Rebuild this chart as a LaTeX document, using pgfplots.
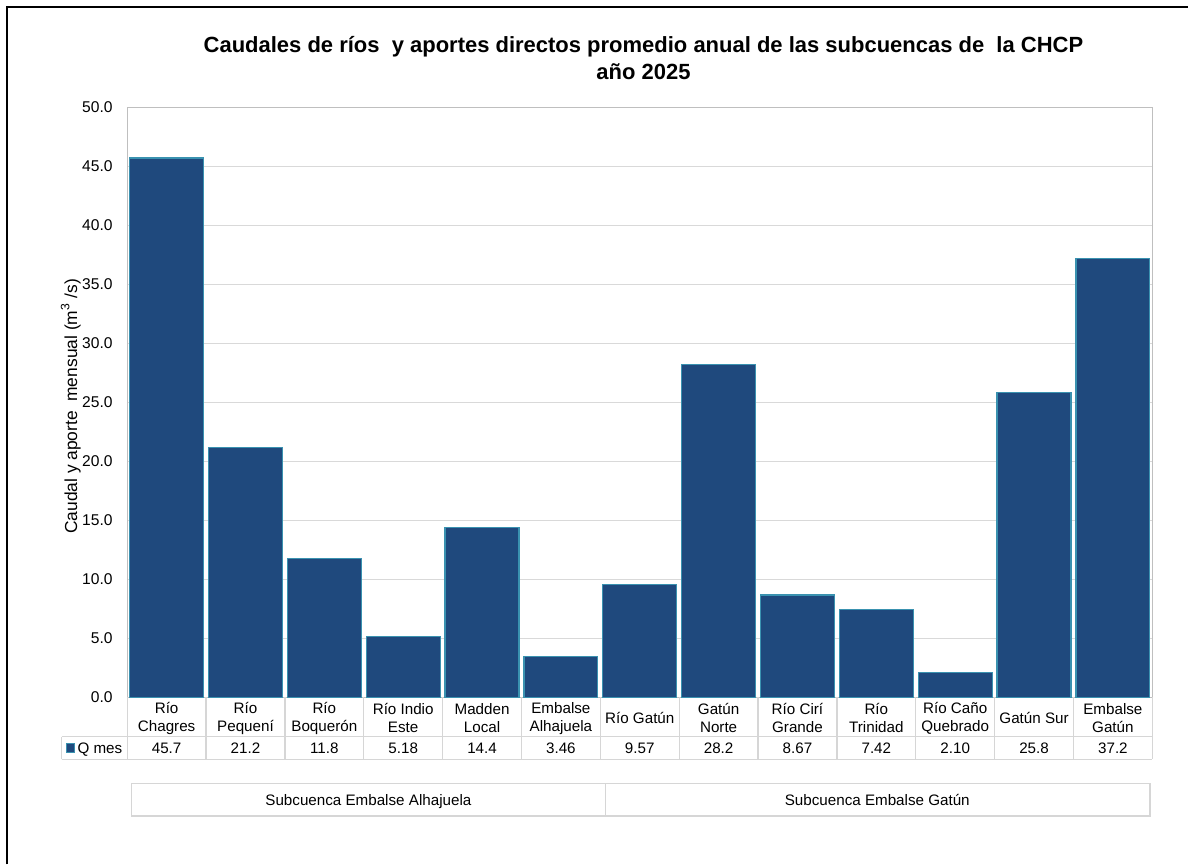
\documentclass[border=0pt]{standalone}
\usepackage{fontspec}
\setmainfont{Liberation Sans}
\usepackage{pgfplots}
\usepackage{pgfplotstable}
\pgfplotsset{compat=1.18}
\definecolor{barblue}{HTML}{1F497D}
\definecolor{baredge}{HTML}{3A92B0}
\definecolor{framegray}{HTML}{BFBFBF}
\definecolor{gridgray}{HTML}{D9D9D9}
\definecolor{tablegray}{HTML}{D6D6D6}

% caudal medio anual (m3/s) por subcuenca
\pgfplotstableread{
x  y     lab
0  45.7  45.7
1  21.2  21.2
2  11.8  11.8
3  5.18  5.18
4  14.4  14.4
5  3.46  3.46
6  9.57  9.57
7  28.2  28.2
8  8.67  8.67
9  7.42  7.42
10 2.10  2.10
11 25.8  25.8
12 37.2  37.2
}\caudales

\newcommand{\lab}{\fontsize{7.6}{8.9}\selectfont}

\begin{document}
\begin{tikzpicture}
% page size 1189x865 px at 0.5pt/px
\path (0,0) rectangle (594.5pt,432.5pt);
% outer frame (top and left only, as cropped in the original)
\draw[black,line width=1pt] (3.65pt,0) -- (3.65pt,428.85pt) -- (594.5pt,428.85pt);

\begin{axis}[
    at={(63.65pt,83.5pt)}, anchor=south west,
    scale only axis,
    width=513pt, height=295.35pt,
    xmin=-0.5, xmax=12.5,
    ymin=0, ymax=50,
    clip=false,
    axis line style={draw=framegray, line width=0.6pt},
    ymajorgrids, grid style={draw=gridgray, line width=0.6pt},
    major tick length=0pt,
    ytick={0,5,...,50},
    yticklabel style={/pgf/number format/fixed, /pgf/number format/fixed zerofill,
        /pgf/number format/precision=1, /pgf/number format/assume math mode=true,
        font=\fontsize{7.8}{9}\selectfont, anchor=east, inner sep=0pt, xshift=-7.15pt},
    xtick={0,...,12},
    xticklabels={R\'io\\Chagres, R\'io\\Pequen\'i, R\'io\\Boquer\'on, R\'io Indio\\Este,
        Madden\\Local, Embalse\\Alhajuela, R\'io Gat\'un, Gat\'un\\Norte, R\'io Cir\'i\\Grande,
        R\'io\\Trinidad, R\'io Ca\~no\\Quebrado, Gat\'un Sur, Embalse\\Gat\'un},
    xticklabel style={font=\lab, align=center, anchor=center, inner sep=0pt, yshift=-10.4pt},
    ylabel={Caudal y aporte~ mensual (m\textsuperscript{3} /s)},
    every axis y label/.style={at={(rel axis cs:0,0.5)}, xshift=-28.2pt, yshift=-2pt,
        rotate=90, anchor=center, font=\fontsize{8.7}{10}\selectfont},
]
\addplot[ybar, bar width=37pt, fill=barblue, draw=baredge, line width=0.6pt]
    table[x=x, y=y] {\caudales};
% fila de valores de la tabla de datos
\addplot[draw=none, mark=none, nodes near coords, point meta=explicit symbolic,
    nodes near coords style={anchor=base, yshift=-28pt, font=\lab, text=black, inner sep=0pt}]
    table[x=x, y expr=0, meta=lab] {\caudales};
\end{axis}

% data table grid
\begin{scope}[tablegray, line width=0.6pt]
\draw (30.85pt,63.85pt) -- (576.65pt,63.85pt);
\draw (30.85pt,52.5pt) -- (576.65pt,52.5pt);
\draw (30.85pt,52.5pt) -- (30.85pt,63.85pt);
\foreach \k in {0,...,13}
    \draw ({63.65pt+\k*39.4615pt},83.5pt) -- ({63.65pt+\k*39.4615pt},52.5pt);
% subcuenca boxes
\draw (65.85pt,24.15pt) rectangle (575.5pt,40.3pt);
\draw (302.85pt,24.15pt) -- (302.85pt,40.3pt);
\end{scope}

% legend key
\draw[fill=barblue, draw=baredge, line width=0.5pt] (33.1pt,56pt) rectangle (37.3pt,60.2pt);
\node[anchor=base west, inner sep=0pt, font=\lab] at (38.6pt,55.3pt) {Q mes};

\node[anchor=base, inner sep=0pt, font=\lab] at (184.35pt,29.5pt) {Subcuenca Embalse Alhajuela};
\node[anchor=base, inner sep=0pt, font=\lab] at (439pt,29.5pt) {Subcuenca Embalse Gat\'un};

% title
\node[align=center, font=\fontsize{11}{13.5}\selectfont\bfseries] at (322pt,403.5pt)
    {Caudales de r\'ios~ y aportes directos promedio anual de las subcuencas de~ la CHCP\\a\~no 2025};
\end{tikzpicture}
\end{document}
